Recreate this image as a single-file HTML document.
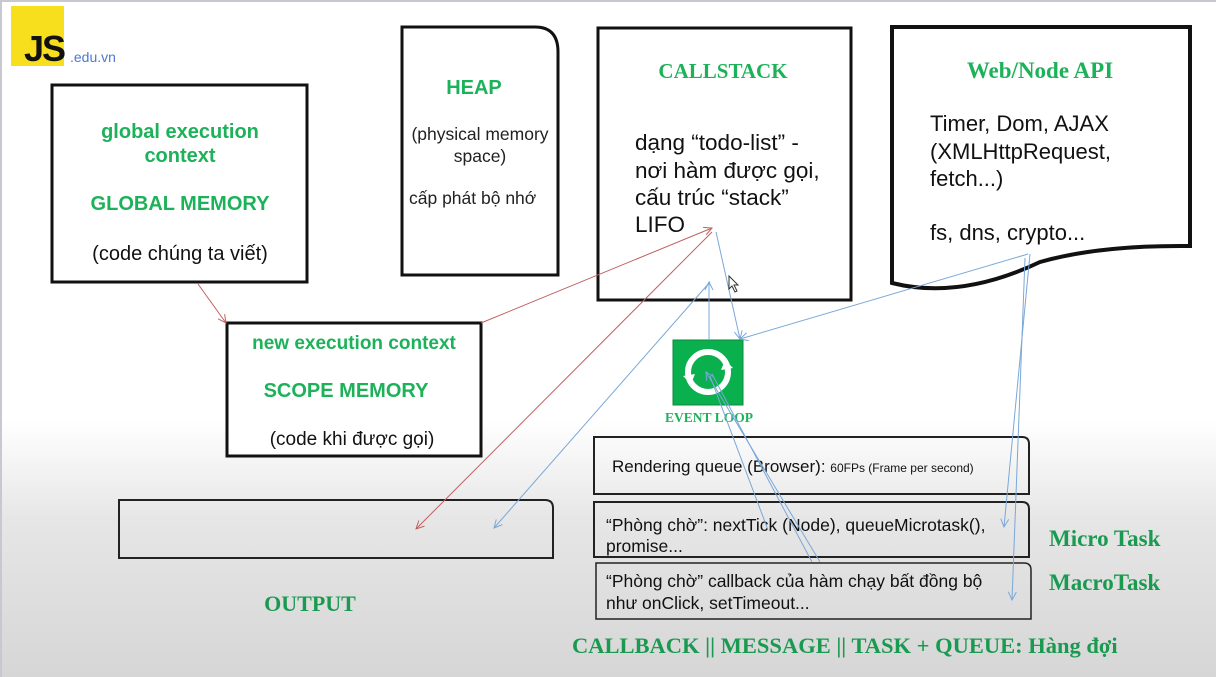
<!DOCTYPE html>
<html><head><meta charset="utf-8"><style>
html,body{margin:0;padding:0}
body{width:1216px;height:677px;overflow:hidden;position:relative;background:linear-gradient(to bottom,#fff 0,#fff 420px,#e6e6e6 520px,#d6d6d6 677px);font-family:"Liberation Sans","DejaVu Sans",sans-serif}
svg{position:absolute;left:0;top:0}
</style></head><body>
<svg width="1216" height="677" viewBox="0 0 1216 677">
<defs>
<marker id="ar" markerWidth="10" markerHeight="10" refX="9" refY="5" orient="auto" markerUnits="userSpaceOnUse"><path d="M1,1 L9,5 L1,9" fill="none" stroke="#c06060" stroke-width="1"/></marker>
<marker id="ab" markerWidth="10" markerHeight="10" refX="9" refY="5" orient="auto" markerUnits="userSpaceOnUse"><path d="M1,1 L9,5 L1,9" fill="none" stroke="#7aa8d8" stroke-width="1"/></marker>
</defs>
<rect x="0" y="0" width="1216" height="2" fill="#c8c8d0"/>
<rect x="0" y="0" width="2" height="677" fill="#c8c8d0"/>
<!-- logo -->
<rect x="11" y="6" width="53" height="60" fill="#f7df1e"/>
<text x="24" y="61" font-size="36" font-weight="bold" fill="#111" letter-spacing="-2">JS</text>
<text x="70" y="62" font-size="14" fill="#4a7ad0">.edu.vn</text>
<!-- boxes -->
<rect x="52" y="85" width="255" height="197" fill="#fff" stroke="#111" stroke-width="3"/>
<path d="M402,27 H535 Q558,27 558,52 V275 H402 Z" fill="#fff" stroke="#111" stroke-width="3"/>
<rect x="598" y="28" width="253" height="272" fill="#fff" stroke="#111" stroke-width="3"/>
<path d="M892,27 H1190 V246 Q1100,245 1040,262 Q960,300 892,283 Z" fill="#fff" stroke="#111" stroke-width="4"/>
<rect x="227" y="323" width="254" height="133" fill="#fff" stroke="#111" stroke-width="3"/>
<g font-size="20" font-weight="bold" fill="#1db25a" text-anchor="middle">
<text x="180" y="138">global execution</text><text x="180" y="162">context</text>
<text x="180" y="210">GLOBAL MEMORY</text>
<text x="474" y="94">HEAP</text>
<text x="354" y="349" font-size="19">new execution context</text>
<text x="346" y="397">SCOPE MEMORY</text>
</g>
<text x="180" y="260" font-size="20" fill="#111" text-anchor="middle">(code chúng ta viết)</text>
<text x="480" y="140" font-size="17.5" fill="#222" text-anchor="middle">(physical memory</text>
<text x="480" y="162" font-size="17.5" fill="#222" text-anchor="middle">space)</text>
<text x="409" y="204" font-size="17.5" fill="#222">cấp phát bộ nhớ</text>
<text x="723" y="78" font-size="21" font-weight="bold" fill="#1db25a" text-anchor="middle" font-family="Liberation Serif,serif">CALLSTACK</text>
<g font-size="22.5" fill="#111"><text x="635" y="150">dạng “todo-list” -</text><text x="635" y="178">nơi hàm được gọi,</text><text x="635" y="205">cấu trúc “stack”</text><text x="635" y="232">LIFO</text></g>
<text x="1040" y="78" font-size="23" font-weight="bold" fill="#1db25a" text-anchor="middle" font-family="Liberation Serif,serif">Web/Node API</text>
<g font-size="22" fill="#111"><text x="930" y="131">Timer, Dom, AJAX</text><text x="930" y="159">(XMLHttpRequest,</text><text x="930" y="186">fetch...)</text><text x="930" y="240">fs, dns, crypto...</text></g>
<text x="352" y="445" font-size="19" fill="#111" text-anchor="middle">(code khi được gọi)</text>
<!-- output -->
<path d="M119,500 H545 Q553,500 553,508 V558 H119 Z" fill="none" stroke="#222" stroke-width="2"/>
<text x="310" y="611" font-size="22" font-weight="bold" fill="#1a9a50" text-anchor="middle" font-family="Liberation Serif,serif">OUTPUT</text>
<!-- event loop -->
<rect x="673" y="340" width="70" height="65" fill="#0ab04e" stroke="#0a8a3e"/>
<circle cx="708" cy="372" r="20" fill="none" stroke="#fff" stroke-width="6"/>
<path d="M725,360 l8,8 l-12,2z M691,384 l-8,-8 l12,-2z" fill="#fff"/>
<text x="709" y="422" font-size="13.5" font-weight="bold" fill="#1db25a" text-anchor="middle" font-family="Liberation Serif,serif">EVENT LOOP</text>
<!-- queues -->
<path d="M594,437 H1022 Q1029,437 1029,444 V494 H594 Z" fill="none" stroke="#222" stroke-width="2"/>
<text x="612" y="472" font-size="17" fill="#111">Rendering queue (Browser): <tspan font-size="12">60FPs (Frame per second)</tspan></text>
<path d="M594,502 H1022 Q1029,502 1029,509 V557 H594 Z" fill="none" stroke="#222" stroke-width="2"/>
<text x="606" y="531" font-size="17.5" fill="#111">“Phòng chờ”: nextTick (Node), queueMicrotask(),</text>
<text x="606" y="552" font-size="17.5" fill="#111">promise...</text>
<path d="M596,563 H1024 Q1031,563 1031,570 V619 H596 Z" fill="none" stroke="#222" stroke-width="1.5"/>
<text x="606" y="587" font-size="17.5" fill="#111">“Phòng chờ” callback của hàm chạy bất đồng bộ</text>
<text x="606" y="609" font-size="17.5" fill="#111">như onClick, setTimeout...</text>
<g font-family="Liberation Serif,serif" font-weight="bold" fill="#1a9a50" font-size="23">
<text x="1049" y="546">Micro Task</text><text x="1049" y="590">MacroTask</text>
<text x="572" y="653" font-size="22.5">CALLBACK || MESSAGE || TASK + QUEUE: Hàng đợi</text>
</g>
<!-- connectors -->
<g stroke="#c06060" stroke-width="1" fill="none">
<line x1="198" y1="284" x2="226" y2="323" marker-end="url(#ar)"/>
<line x1="481" y1="323" x2="712" y2="228" marker-end="url(#ar)"/>
<line x1="712" y1="232" x2="416" y2="529" marker-end="url(#ar)"/>
</g>
<g stroke="#7aa8d8" stroke-width="1" fill="none">
<line x1="710" y1="282" x2="494" y2="528" marker-end="url(#ab)"/>
<line x1="709" y1="340" x2="709" y2="282" marker-end="url(#ab)"/>
<line x1="716" y1="232" x2="740" y2="339" marker-end="url(#ab)"/>
<line x1="1028" y1="254" x2="740" y2="339" marker-end="url(#ab)"/>
<line x1="1030" y1="254" x2="1004" y2="527" marker-end="url(#ab)"/>
<line x1="1025" y1="258" x2="1012" y2="600" marker-end="url(#ab)"/>
<line x1="820" y1="562" x2="706" y2="372" marker-end="url(#ab)"/>
<line x1="812" y1="562" x2="712" y2="374"/>
<line x1="768" y1="530" x2="710" y2="376"/>
</g>
<path d="M729,276 l0,13 l3,-3 l3,6 l2,-1 l-3,-6 l4,0z" fill="#fff" stroke="#333" stroke-width="1"/>
</svg>
</body></html>
